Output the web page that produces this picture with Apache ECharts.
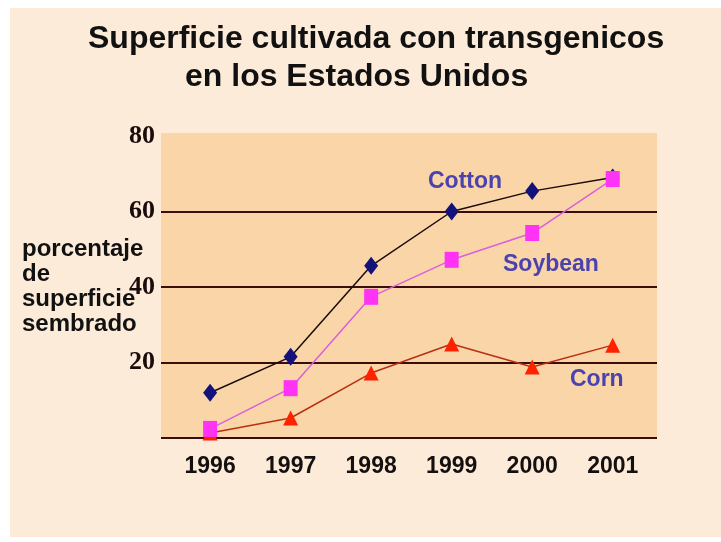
<!DOCTYPE html>
<html>
<head>
<meta charset="utf-8">
<script src="https://cdn.jsdelivr.net/npm/echarts@6/dist/echarts.min.js"></script>
<style>
  html, body { margin: 0; padding: 0; background: #ffffff; }
  #chart { width: 721px; height: 542px; }
</style>
</head>
<body>
<div id="chart"></div>
<script>
// ---- data ----
var years = [1996, 1997, 1998, 1999, 2000, 2001];
var cotton = [12, 21.5, 45.6, 60, 65.4, 69];
var soybean = [2.4, 13.2, 37.4, 47.2, 54.3, 68.6];
var corn = [1.3, 5.3, 17.2, 24.9, 18.8, 24.6];
var yTicks = [0, 20, 40, 60, 80];
var titleLines = ['Superficie cultivada con transgenicos', 'en los Estados Unidos'];
var yName = ['porcentaje', 'de', 'superficie', 'sembrado'];
var seriesNames = ['Cotton', 'Soybean', 'Corn'];

function pairs(vals) { return years.map(function (y, i) { return [y, vals[i]]; }); }

var chart = echarts.init(document.getElementById('chart'), null, { renderer: 'canvas' });
var gridColor = '#3a0c0c';
var labelBlue = '#4b43ad';

var option = {
  backgroundColor: '#ffffff',
  animation: false,
  grid: { left: 161, right: 64, top: 136, bottom: 104, containLabel: false },
  xAxis: {
    type: 'value',
    min: 1995.39,
    max: 2001.55,
    axisLine: { show: false },
    axisTick: { show: false },
    splitLine: { show: false },
    axisLabel: {
      customValues: years,
      formatter: function (v) { return String(v); },
      fontFamily: 'Liberation Sans',
      fontWeight: 'bold',
      fontSize: 23,
      color: '#151010',
      margin: 17
    }
  },
  yAxis: {
    type: 'value',
    min: yTicks[0],
    max: yTicks[yTicks.length - 1],
    interval: 20,
    axisLine: { show: false },
    axisTick: { show: false },
    axisLabel: {
      showMinLabel: false,
      fontFamily: 'Liberation Serif',
      fontWeight: 'bold',
      fontSize: 26,
      color: '#1a0c0c',
      margin: 6
    },
    splitLine: {
      show: true,
      lineStyle: { color: [gridColor, gridColor, gridColor, gridColor, 'rgba(0,0,0,0)'], width: 2 }
    }
  },
  graphic: [
    { type: 'rect', z: -20, silent: true, shape: { x: 10, y: 8, width: 711, height: 529 }, style: { fill: '#fdebd9' } },
    { type: 'rect', z: -10, silent: true, shape: { x: 161, y: 133, width: 496, height: 305 }, style: { fill: '#fad5a8' } },
    { type: 'text', left: 88, top: 23, style: { text: titleLines[0], font: 'bold 32px "Liberation Sans"', fill: '#111111' } },
    { type: 'text', left: 185, top: 61, style: { text: titleLines[1], font: 'bold 32px "Liberation Sans"', fill: '#111111' } },
    { type: 'text', left: 22, top: 237, style: { text: yName.join('\n'), font: 'bold 24px "Liberation Sans"', lineHeight: 25, fill: '#111111' } },
    { type: 'text', left: 428, top: 170, style: { text: seriesNames[0], font: 'bold 23px "Liberation Sans"', fill: labelBlue } },
    { type: 'text', left: 503, top: 253, style: { text: seriesNames[1], font: 'bold 23px "Liberation Sans"', fill: labelBlue } },
    { type: 'text', left: 570, top: 368, style: { text: seriesNames[2], font: 'bold 23px "Liberation Sans"', fill: labelBlue } }
  ],
  series: [
    {
      name: seriesNames[2],
      type: 'line',
      data: pairs(corn),
      symbol: 'triangle',
      symbolSize: [15, 15],
      itemStyle: { color: '#ff2200' },
      lineStyle: { color: '#b8300f', width: 1.5 },
      z: 3
    },
    {
      name: seriesNames[0],
      type: 'line',
      data: pairs(cotton),
      symbol: 'diamond',
      symbolSize: [14, 18],
      itemStyle: { color: '#12127a' },
      lineStyle: { color: '#1a0c0c', width: 1.5 },
      z: 4
    },
    {
      name: seriesNames[1],
      type: 'line',
      data: pairs(soybean),
      symbol: 'rect',
      symbolSize: [14, 16],
      itemStyle: { color: '#ff33f5' },
      lineStyle: { color: '#d860d8', width: 1.5 },
      z: 5
    }
  ]
};
chart.setOption(option);
</script>
</body>
</html>
